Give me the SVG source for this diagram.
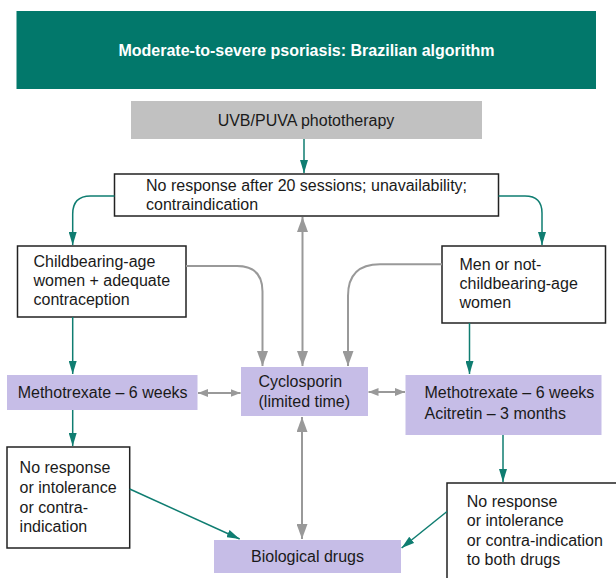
<svg xmlns="http://www.w3.org/2000/svg" width="616" height="578" viewBox="0 0 616 578">
<defs>
<style>
text{font-family:"Liberation Sans",Arial,sans-serif;font-size:16px;fill:#1a1a1a}
.title{font-weight:bold;fill:#ffffff}
.box{fill:#ffffff;stroke:#222222;stroke-width:1.5}
.purple{fill:#c6bde7}
.teal{fill:none;stroke:#0f7d71;stroke-width:1.5}
.gray{fill:none;stroke:#999999;stroke-width:2}
</style>
<marker id="tah" viewBox="0 0 13 8" refX="13" refY="4" markerWidth="13" markerHeight="8" markerUnits="userSpaceOnUse" orient="auto-start-reverse">
<path d="M0,0 L13,4 L0,8 Z" fill="#0f7d71"/>
</marker>
<marker id="ga" viewBox="0 0 15 11" refX="15" refY="5.5" markerWidth="15" markerHeight="11" markerUnits="userSpaceOnUse" orient="auto-start-reverse">
<path d="M0,0 L15,5.5 L0,11 Z" fill="#999999"/>
</marker>
<marker id="gs" viewBox="0 0 10 8" refX="10" refY="4" markerWidth="10" markerHeight="8" markerUnits="userSpaceOnUse" orient="auto-start-reverse">
<path d="M0,0 L10,4 L0,8 Z" fill="#999999"/>
</marker>
</defs>

<g id="title">
<rect x="16.5" y="11" width="579.5" height="78" fill="#02786b"/>
<text class="title" x="306.5" y="56" text-anchor="middle">Moderate-to-severe psoriasis: Brazilian algorithm</text>
</g>

<g id="uvb">
<rect x="131" y="101" width="351" height="38" fill="#c1c1c1"/>
<text x="306" y="126" text-anchor="middle">UVB/PUVA phototherapy</text>
</g>

<g id="noresponse">
<rect class="box" x="114.5" y="174" width="384" height="42"/>
<text x="146" y="190.5">No response after 20 sessions; unavailability;</text>
<text x="146" y="210">contraindication</text>
</g>

<g id="childbearing">
<rect class="box" x="17.5" y="246" width="168.5" height="71"/>
<text x="33.5" y="267">Childbearing-age</text>
<text x="33.5" y="286">women + adequate</text>
<text x="33.5" y="304.5">contraception</text>
</g>

<g id="men">
<rect class="box" x="442" y="246" width="163.5" height="77"/>
<text x="459.5" y="269.5">Men or not-</text>
<text x="459.5" y="289">childbearing-age</text>
<text x="459.5" y="308">women</text>
</g>

<g id="mtx-left">
<rect class="purple" x="7" y="375" width="190.5" height="35"/>
<text x="17.7" y="398">Methotrexate – 6 weeks</text>
</g>

<g id="cyclosporin">
<rect class="purple" x="241" y="367" width="127" height="49"/>
<text x="258.5" y="387">Cyclosporin</text>
<text x="258.5" y="407">(limited time)</text>
</g>

<g id="mtx-right">
<rect class="purple" x="405.5" y="375" width="196" height="60"/>
<text x="424.5" y="398">Methotrexate – 6 weeks</text>
<text x="424.5" y="419">Acitretin – 3 months</text>
</g>

<g id="noresponse-left">
<rect class="box" x="7" y="447" width="122.7" height="101"/>
<text x="19.6" y="473">No response</text>
<text x="19.6" y="493">or intolerance</text>
<text x="19.6" y="513">or contra-</text>
<text x="19.6" y="532">indication</text>
</g>

<g id="noresponse-right">
<rect class="box" x="447" y="483" width="180" height="110"/>
<text x="466.8" y="507">No response</text>
<text x="466.8" y="526">or intolerance</text>
<text x="466.8" y="546">or contra-indication</text>
<text x="466.8" y="565">to both drugs</text>
</g>

<g id="biological">
<rect class="purple" x="214" y="540" width="187" height="33"/>
<text x="307.5" y="562" text-anchor="middle">Biological drugs</text>
</g>

<g id="connectors">
<path class="teal" d="M304,139 V173" marker-end="url(#tah)"/>
<path class="teal" d="M114.5,196 H90.5 Q72.7,196 72.7,214 V245" marker-end="url(#tah)"/>
<path class="teal" d="M498.5,196 H525 Q542,196 542,213 V245" marker-end="url(#tah)"/>
<path class="teal" d="M72.7,317 V374" marker-end="url(#tah)"/>
<path class="teal" d="M469.5,323 V374" marker-end="url(#tah)"/>
<path class="teal" d="M72.7,410 V446" marker-end="url(#tah)"/>
<path class="teal" d="M503,435 V482" marker-end="url(#tah)"/>
<path class="teal" d="M129.7,489 L239.7,539" marker-end="url(#tah)"/>
<path class="teal" d="M447,511.5 L401.6,548" marker-end="url(#tah)"/>
<path class="gray" d="M186,266 H237 Q262.5,266 262.5,291.5 V366" marker-end="url(#ga)"/>
<path class="gray" d="M442,264.3 H380 Q348,264.3 348,296 V366" marker-end="url(#ga)"/>
<path class="gray" d="M302.5,217 V366" marker-start="url(#ga)" marker-end="url(#ga)"/>
<path class="gray" d="M302,417 V539" marker-start="url(#ga)" marker-end="url(#ga)"/>
<path class="gray" d="M198,393 H240.5" marker-start="url(#gs)" marker-end="url(#gs)"/>
<path class="gray" d="M368.5,392 H405" marker-start="url(#gs)" marker-end="url(#gs)"/>
</g>
</svg>
